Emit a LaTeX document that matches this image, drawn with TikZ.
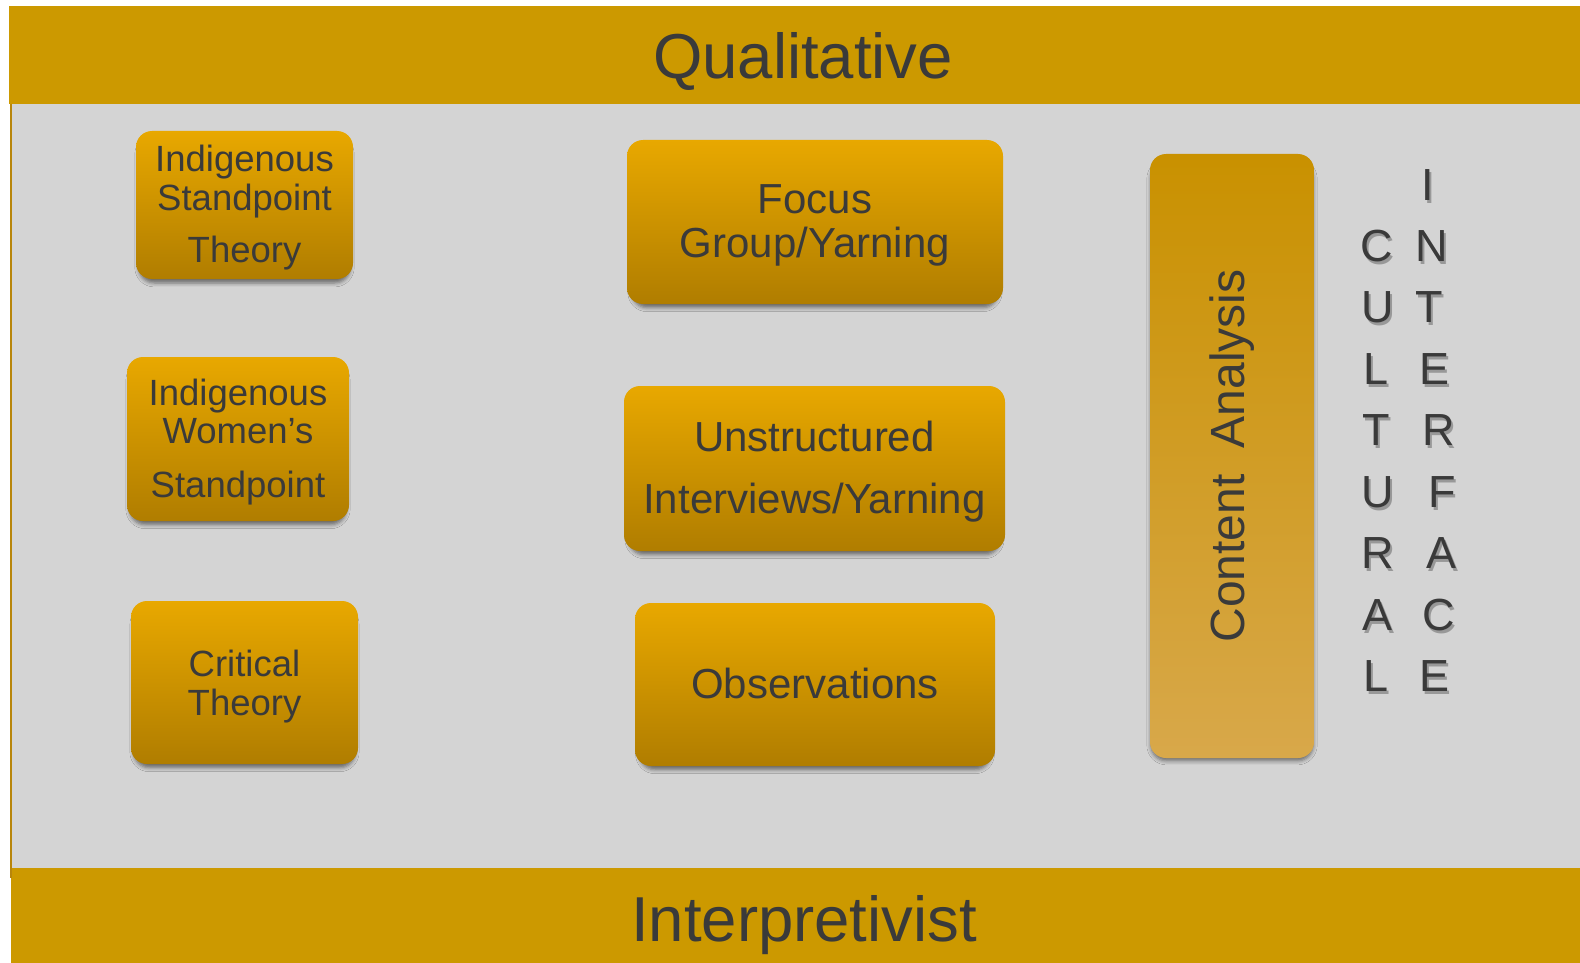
\documentclass[tikz,border=0pt]{standalone}
\usepackage{fontspec}
\setmainfont{Liberation Sans}
\usetikzlibrary{shadows.blur}
\definecolor{bar}{HTML}{CC9900}
\definecolor{panel}{HTML}{D4D4D4}
\definecolor{txt}{HTML}{3A3A3A}
\definecolor{boxtop}{HTML}{E8A800}
\definecolor{boxbot}{HTML}{B07D00}
\definecolor{catop}{HTML}{C99100}
\definecolor{camid}{HTML}{D59E0A}
\definecolor{cabot}{HTML}{D8A84A}
\definecolor{edgegold}{HTML}{B8860B}
\newcommand\lettr[4]{%
  \node[letter, text=black, text opacity=0.28] (#1s) at (#2+2,#3+3) {#4};
  \node[letter] (#1) at (#2,#3) {#4};}
\begin{document}
\begin{tikzpicture}[x=1pt,y=-1pt,
  softshadow/.style={blur shadow={shadow xshift=0pt, shadow yshift=-6pt, shadow blur radius=4pt, shadow scale=0.975, shadow opacity=50}},
  gbox/.style={rectangle, rounded corners=16pt, top color=boxtop, bottom color=boxbot,
    draw=none, inner sep=0pt, softshadow},
  btext/.style={inner sep=0pt, text=txt, align=center},
  lfont/.style={font=\fontsize{36.5}{38.5}\selectfont},
  mfont/.style={font=\fontsize{42}{44}\selectfont},
  titletext/.style={font=\fontsize{63.5}{66}\selectfont, text=txt, inner sep=0pt, anchor=base},
  letter/.style={font=\fontsize{45}{45}\selectfont, text=txt, inner sep=0pt},
]
\useasboundingbox (0,0) rectangle (1580,963);
\fill[white] (0,0) rectangle (1580,963);
% bars and panel
\fill[bar] (9,6) rectangle (1580,104);
\fill[panel] (11,104) rectangle (1580,868);
\fill[bar] (11,868) rectangle (1580,963);
\draw[edgegold, line width=2pt] (10.5,104) -- (10.5,878);
\node[titletext] (qual) at (803,78.5) {Qualitative};
\node[titletext] (interp) at (804,941) {Interpretivist};
% left column
\node[gbox, minimum width=217pt, minimum height=148pt] (ist) at (244.5,205) {};
\node[btext, lfont] (istt) at ([yshift=-3pt]ist.center) {Indigenous\\Standpoint\\[14pt]Theory};
\node[gbox, minimum width=222pt, minimum height=164pt] (iws) at (238,439) {};
\node[btext, lfont] (iwst) at ([yshift=-3pt]iws.center) {Indigenous\\Women’s\\[15pt]Standpoint};
\node[gbox, minimum width=227pt, minimum height=163pt] (ct) at (244.5,682.5) {};
\node[btext, lfont] (ctt) at ([yshift=-4pt]ct.center) {Critical\\Theory};
% middle column
\node[gbox, minimum width=376pt, minimum height=164pt] (fg) at (815,222) {};
\node[btext, mfont] (fgt) at ([yshift=-3pt]fg.center) {Focus\\Group/Yarning};
\node[gbox, minimum width=381pt, minimum height=165pt] (ui) at (814.5,468.5) {};
\node[btext, mfont] (uit) at ([yshift=-3pt]ui.center) {Unstructured\\[18pt]Interviews/Yarning};
\node[gbox, minimum width=360pt, minimum height=163pt] (obs) at (815,684.5) {};
\node[btext, mfont] (obst) at ([yshift=1pt]obs.center) {Observations};
% content analysis
\node[rectangle, rounded corners=16pt, top color=catop, middle color=camid, bottom color=cabot,
  draw=none, inner sep=0pt, minimum width=164pt, minimum height=604pt,
  blur shadow={shadow xshift=0pt, shadow yshift=-6pt, shadow blur radius=4pt, shadow scale=0.99, shadow opacity=50}]
  (ca) at (1232,456) {};
\node[rotate=90, font=\fontsize{48}{50}\selectfont, text=txt, inner sep=0pt] (catext) at (ca.center)
  {Content\hspace{26pt}Analysis};
% cultural interface letters
\lettr{c1}{1377}{246}{C}
\lettr{c2}{1378}{307.5}{U}
\lettr{c3}{1376}{369}{L}
\lettr{c4}{1376}{430.5}{T}
\lettr{c5}{1378}{492}{U}
\lettr{c6}{1378}{553.5}{R}
\lettr{c7}{1377}{615}{A}
\lettr{c8}{1376}{676.5}{L}
\lettr{i1}{1428}{185}{I}
\lettr{i2}{1432}{246}{N}
\lettr{i3}{1429}{307.5}{T}
\lettr{i4}{1434}{369}{E}
\lettr{i5}{1439}{430.5}{R}
\lettr{i6}{1442}{492}{F}
\lettr{i7}{1441}{553.5}{A}
\lettr{i8}{1439}{615}{C}
\lettr{i9}{1434}{676.5}{E}
\end{tikzpicture}
\end{document}
